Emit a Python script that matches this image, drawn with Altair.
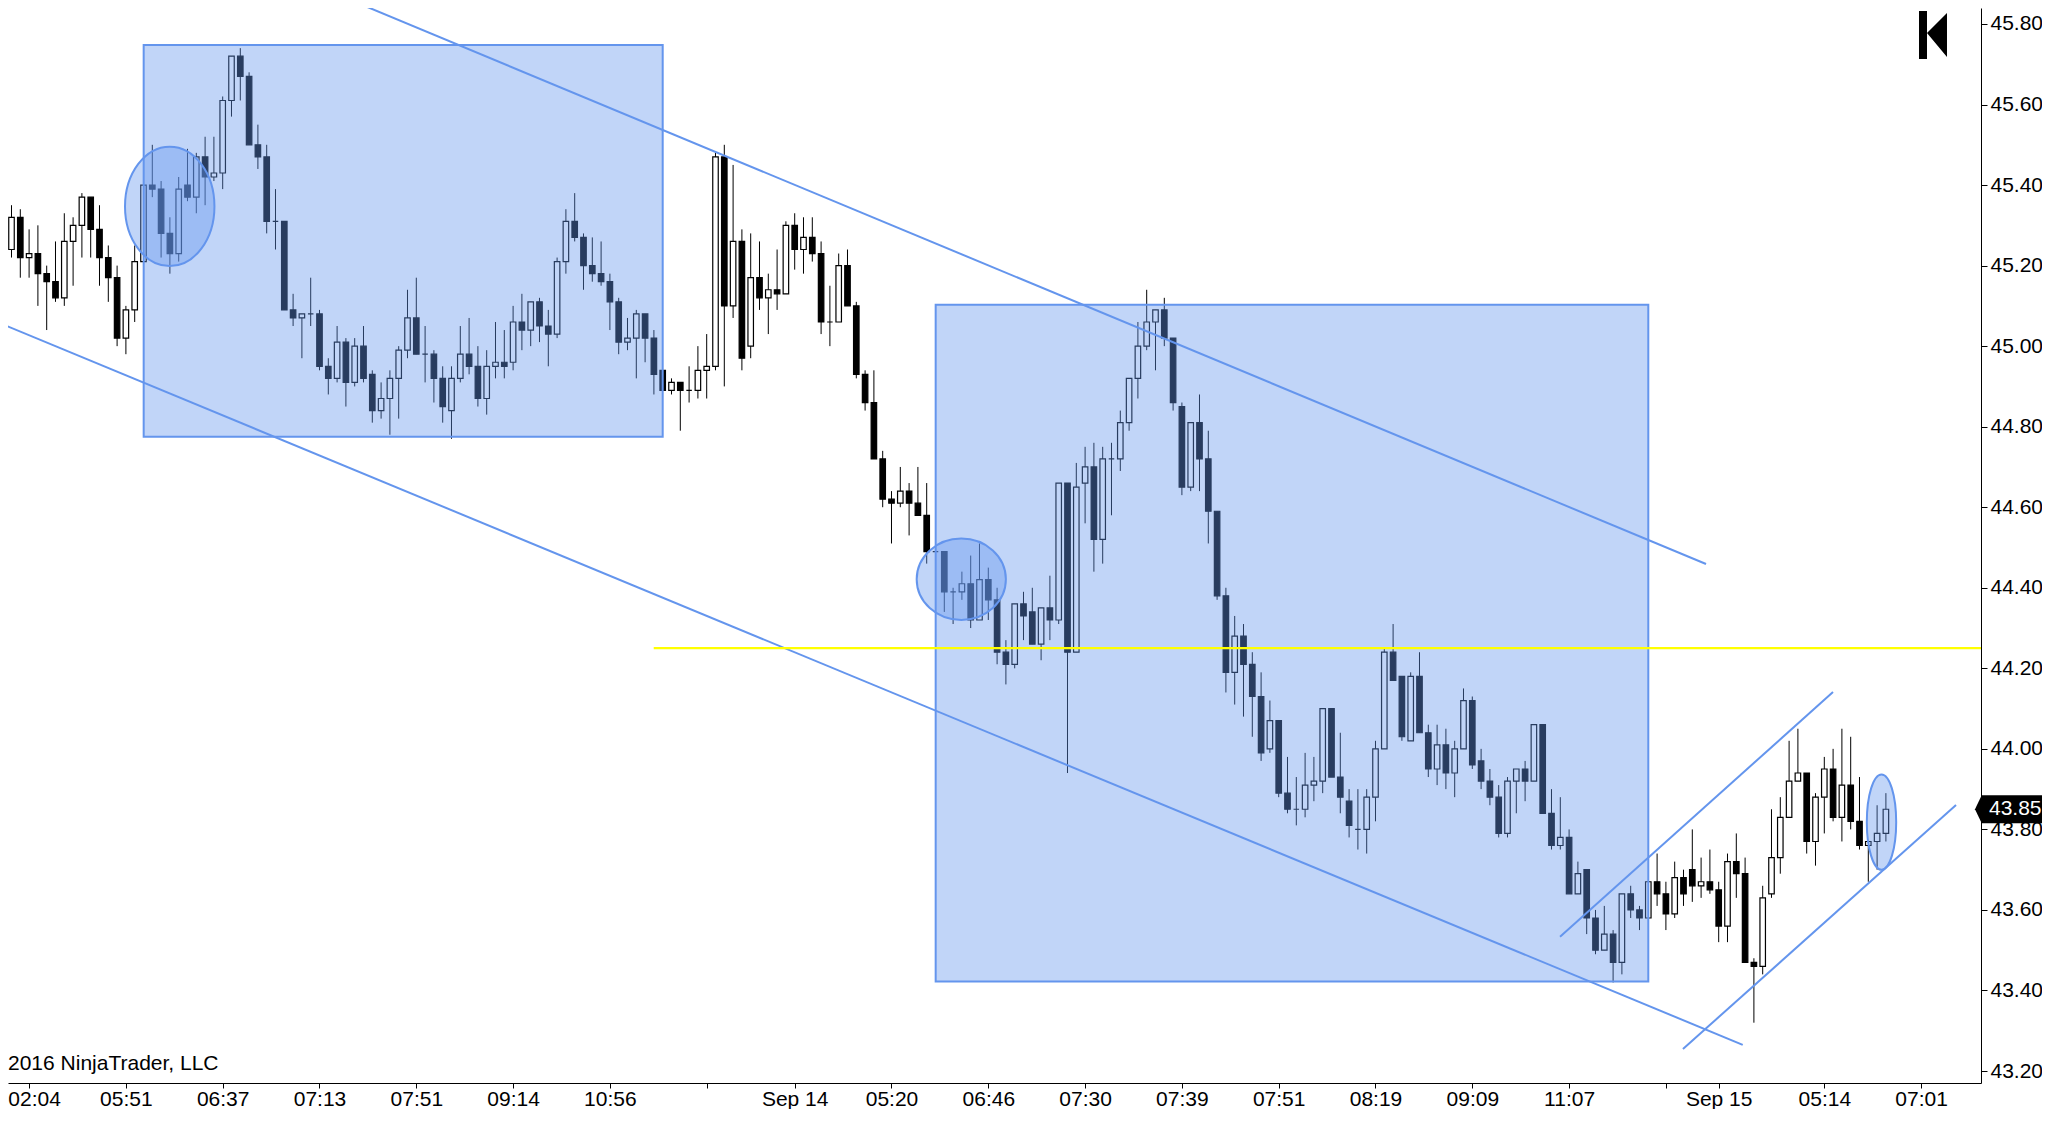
import altair as alt
import pandas as pd

FONT = "Liberation Sans"

# ---- candle data (bar index order) ----
opens = [45.51, 45.24, 45.32, 45.22, 45.23, 45.18, 45.16, 45.12, 45.26, 45.30,
         45.37, 45.29, 45.22, 45.17, 45.02, 45.09, 45.21, 45.40, 45.39, 45.28,
         45.23, 45.40, 45.37, 45.47, 45.42, 45.43, 45.61, 45.72, 45.67, 45.50,
         45.47, 45.31, 45.31, 45.09, 45.07, 45.08, 45.08, 44.95, 44.92, 45.01,
         44.91, 45.00, 44.93, 44.84, 44.87, 44.92, 44.99, 45.07, 44.98, 44.98,
         44.92, 44.84, 44.92, 44.98, 44.95, 44.87, 44.95, 44.96, 44.96, 45.06,
         45.04, 45.11, 45.05, 45.03, 45.21, 45.31, 45.27, 45.20, 45.18, 45.16,
         45.11, 45.01, 45.02, 45.08, 45.02, 44.94, 44.89, 44.91, 44.89, 44.89,
         44.94, 44.95, 45.47, 45.10, 45.26, 45.00, 45.17, 45.12, 45.14, 45.13,
         45.30, 45.24, 45.27, 45.23, 45.06, 45.06, 45.20, 45.10, 44.93, 44.86,
         44.72, 44.62, 44.61, 44.64, 44.61, 44.58, 44.49, 44.49, 44.39, 44.39,
         44.41, 44.32, 44.42, 44.37, 44.24, 44.21, 44.36, 44.34, 44.26, 44.35,
         44.32, 44.66, 44.24, 44.66, 44.70, 44.52, 44.72, 44.72, 44.81, 44.92,
         45.00, 45.06, 45.09, 45.02, 44.85, 44.65, 44.81, 44.72, 44.59, 44.38,
         44.19, 44.28, 44.21, 44.13, 44.00, 44.07, 43.89, 43.85, 43.85, 43.91,
         43.92, 44.10, 43.93, 43.87, 43.80, 43.80, 43.88, 44.00, 44.24, 44.18,
         44.02, 44.18, 44.04, 43.95, 44.01, 43.94, 44.00, 44.12, 43.97, 43.92,
         43.88, 43.79, 43.92, 43.95, 43.92, 44.06, 43.84, 43.76, 43.78, 43.64,
         43.70, 43.58, 43.50, 43.54, 43.47, 43.64, 43.60, 43.58, 43.67, 43.64,
         43.59, 43.68, 43.70, 43.66, 43.67, 43.65, 43.56, 43.72, 43.69, 43.47,
         43.46, 43.64, 43.73, 43.83, 43.92, 43.94, 43.77, 43.88, 43.95, 43.83,
         43.91, 43.82, 43.76, 43.77, 43.79]
highs = [45.52, 45.35, 45.34, 45.29, 45.30, 45.20, 45.26, 45.33, 45.32, 45.38,
         45.37, 45.35, 45.25, 45.20, 45.10, 45.25, 45.40, 45.50, 45.41, 45.32,
         45.42, 45.49, 45.48, 45.52, 45.52, 45.62, 45.72, 45.74, 45.68, 45.55,
         45.50, 45.39, 45.31, 45.13, 45.08, 45.17, 45.09, 44.97, 45.05, 45.02,
         45.02, 45.05, 44.94, 44.91, 44.94, 45.00, 45.14, 45.17, 45.05, 44.99,
         44.95, 44.95, 45.05, 45.07, 45.00, 44.99, 45.06, 45.04, 45.10, 45.13,
         45.11, 45.12, 45.09, 45.22, 45.34, 45.38, 45.28, 45.27, 45.26, 45.18,
         45.12, 45.07, 45.09, 45.08, 45.04, 44.94, 44.92, 44.91, 44.95, 45.00,
         45.03, 45.48, 45.50, 45.45, 45.29, 45.28, 45.26, 45.18, 45.24, 45.31,
         45.33, 45.32, 45.32, 45.26, 45.15, 45.23, 45.24, 45.11, 44.94, 44.94,
         44.74, 44.64, 44.70, 44.66, 44.70, 44.66, 44.49, 44.49, 44.40, 44.44,
         44.48, 44.51, 44.45, 44.40, 44.27, 44.36, 44.39, 44.40, 44.35, 44.43,
         44.66, 44.66, 44.71, 44.75, 44.76, 44.75, 44.76, 44.84, 44.92, 45.06,
         45.14, 45.09, 45.12, 45.02, 44.86, 44.81, 44.88, 44.79, 44.59, 44.40,
         44.33, 44.31, 44.24, 44.19, 44.12, 44.07, 43.98, 43.93, 43.99, 43.98,
         44.10, 44.10, 44.04, 43.90, 43.90, 43.90, 44.02, 44.25, 44.31, 44.18,
         44.19, 44.24, 44.06, 44.06, 44.05, 44.02, 44.15, 44.13, 44.00, 43.95,
         43.91, 43.93, 43.95, 43.97, 44.06, 44.06, 43.90, 43.88, 43.80, 43.72,
         43.70, 43.60, 43.61, 43.55, 43.64, 43.66, 43.61, 43.67, 43.74, 43.67,
         43.72, 43.70, 43.80, 43.73, 43.75, 43.67, 43.74, 43.79, 43.73, 43.48,
         43.66, 43.85, 43.88, 44.02, 44.05, 43.94, 43.89, 43.98, 44.00, 44.05,
         44.03, 43.93, 43.77, 43.86, 43.89]
lows = [45.23, 45.22, 45.17, 45.17, 45.10, 45.04, 45.11, 45.10, 45.15, 45.22,
        45.22, 45.15, 45.11, 45.00, 44.98, 45.06, 45.20, 45.37, 45.22, 45.18,
        45.21, 45.36, 45.33, 45.35, 45.41, 45.39, 45.57, 45.61, 45.50, 45.44,
        45.28, 45.24, 45.09, 45.05, 44.97, 45.05, 44.94, 44.88, 44.91, 44.85,
        44.90, 44.91, 44.81, 44.82, 44.78, 44.82, 44.97, 44.98, 44.91, 44.86,
        44.81, 44.77, 44.91, 44.93, 44.85, 44.83, 44.92, 44.92, 44.94, 44.99,
        45.00, 45.01, 44.95, 45.02, 45.18, 45.26, 45.14, 45.16, 45.15, 45.04,
        44.98, 44.99, 44.92, 44.96, 44.88, 44.89, 44.88, 44.79, 44.86, 44.87,
        44.87, 44.94, 44.90, 45.07, 44.94, 44.97, 45.09, 45.03, 45.09, 45.13,
        45.19, 45.18, 45.21, 45.03, 45.00, 45.06, 45.10, 44.92, 44.84, 44.72,
        44.60, 44.51, 44.60, 44.53, 44.58, 44.46, 44.49, 44.34, 44.31, 44.37,
        44.30, 44.32, 44.32, 44.21, 44.16, 44.20, 44.27, 44.26, 44.22, 44.27,
        44.31, 43.94, 44.24, 44.56, 44.44, 44.46, 44.58, 44.69, 44.79, 44.87,
        44.99, 44.94, 45.00, 44.84, 44.63, 44.64, 44.64, 44.51, 44.37, 44.14,
        44.11, 44.08, 44.03, 43.97, 43.99, 43.88, 43.84, 43.81, 43.83, 43.87,
        43.89, 43.93, 43.84, 43.78, 43.75, 43.74, 43.82, 44.00, 44.17, 44.02,
        44.02, 44.04, 43.93, 43.91, 43.90, 43.88, 44.00, 43.95, 43.90, 43.86,
        43.78, 43.78, 43.84, 43.87, 43.92, 43.84, 43.75, 43.75, 43.64, 43.64,
        43.54, 43.49, 43.50, 43.42, 43.44, 43.58, 43.55, 43.58, 43.61, 43.55,
        43.58, 43.61, 43.62, 43.63, 43.64, 43.52, 43.52, 43.63, 43.47, 43.32,
        43.44, 43.63, 43.69, 43.83, 43.92, 43.74, 43.71, 43.79, 43.82, 43.77,
        43.80, 43.75, 43.67, 43.70, 43.77]
closes = [45.24, 45.32, 45.22, 45.23, 45.18, 45.16, 45.12, 45.26, 45.30, 45.37,
          45.29, 45.22, 45.17, 45.02, 45.09, 45.21, 45.40, 45.39, 45.28, 45.23,
          45.39, 45.37, 45.47, 45.42, 45.43, 45.61, 45.72, 45.67, 45.50, 45.47,
          45.31, 45.31, 45.09, 45.07, 45.08, 45.08, 44.95, 44.92, 45.01, 44.91,
          45.00, 44.92, 44.84, 44.87, 44.92, 44.99, 45.07, 44.98, 44.98, 44.92,
          44.85, 44.92, 44.98, 44.95, 44.87, 44.95, 44.96, 44.95, 45.06, 45.04,
          45.11, 45.05, 45.03, 45.21, 45.31, 45.27, 45.20, 45.18, 45.16, 45.11,
          45.01, 45.02, 45.08, 45.02, 44.93, 44.89, 44.91, 44.89, 44.89, 44.94,
          44.95, 45.47, 45.10, 45.26, 44.97, 45.17, 45.12, 45.14, 45.13, 45.30,
          45.24, 45.27, 45.23, 45.06, 45.06, 45.20, 45.10, 44.93, 44.86, 44.72,
          44.62, 44.61, 44.64, 44.61, 44.58, 44.49, 44.49, 44.39, 44.39, 44.41,
          44.32, 44.42, 44.37, 44.24, 44.21, 44.36, 44.33, 44.26, 44.35, 44.32,
          44.66, 44.24, 44.65, 44.70, 44.52, 44.72, 44.72, 44.81, 44.92, 45.00,
          45.06, 45.09, 45.02, 44.86, 44.65, 44.81, 44.72, 44.59, 44.38, 44.19,
          44.28, 44.21, 44.13, 43.99, 44.07, 43.89, 43.85, 43.85, 43.91, 43.92,
          44.10, 43.93, 43.88, 43.81, 43.80, 43.88, 44.00, 44.24, 44.17, 44.03,
          44.18, 44.04, 43.95, 44.01, 43.94, 44.00, 44.12, 43.96, 43.92, 43.88,
          43.79, 43.92, 43.95, 43.92, 44.06, 43.84, 43.76, 43.78, 43.64, 43.69,
          43.58, 43.50, 43.54, 43.47, 43.64, 43.60, 43.58, 43.67, 43.64, 43.59,
          43.68, 43.64, 43.66, 43.67, 43.65, 43.56, 43.72, 43.69, 43.47, 43.46,
          43.63, 43.73, 43.83, 43.92, 43.94, 43.77, 43.88, 43.95, 43.83, 43.91,
          43.82, 43.76, 43.77, 43.79, 43.85]

# ---- axis labels ----
tick_idx = [3, 14, 25, 36, 47, 58, 69, 80, 90, 101, 112, 123, 134, 145, 156,
            167, 178, 189, 195, 207, 218]
tick_labels = ["02:04", "05:51", "06:37", "07:13", "07:51", "09:14", "10:56", "",
               "Sep 14", "05:20", "06:46", "07:30", "07:39", "07:51", "08:19",
               "09:09", "11:07", "", "Sep 15", "05:14", "07:01"]
price_ticks = [43.20, 43.40, 43.60, 43.80, 44.00, 44.20, 44.40, 44.60, 44.80,
               45.00, 45.20, 45.40, 45.60, 45.80]

# ---- drawing objects (bar index, price) ----
rect_x1 = [16.02, 106.02]
rect_x2 = [75.0, 187.0]
rect_y1 = [45.748, 45.103]
rect_y2 = [44.775, 43.422]

ell_cx = [18.98, 108.93, 213.5]
ell_cy = [45.347, 44.421, 43.818]

line_x1 = [39.47, -0.307, 176.97, 190.94]
line_y1 = [45.86, 45.057, 43.5336, 43.2547]
line_x2 = [193.56, 197.73, 207.99, 221.97]
line_y2 = [44.459, 43.265, 44.141, 43.8606]

hline_x1 = [73.98]
hline_x2 = [230.0]
hline_y = [44.25]

BLUE = "#6495ED"

df = pd.DataFrame({"i": list(range(len(opens))), "o": opens, "h": highs,
                   "l": lows, "c": closes})

xs = alt.Scale(domain=[0.60227, 224.807], nice=False, zero=False, padding=0)
ys = alt.Scale(domain=[43.17025, 45.8397], nice=False, zero=False, padding=0)

label_expr = " : ".join(f"datum.value == {v} ? '{t}'" for v, t in zip(tick_idx, tick_labels)) + " : ''"

xaxis = alt.Axis(values=tick_idx, labelExpr=label_expr, title=None, grid=False,
                 orient="bottom", domainColor="black", tickColor="black",
                 tickSize=5, labelPadding=0, labelFontSize=21, labelFont=FONT,
                 labelColor="black", labelFlush=False, labelOverlap=False,
                 labelAlign="center", labelBaseline="top", domainWidth=1, tickWidth=1,
                 labelOffset={"condition": {"test": "datum.value == 3", "value": 5}, "value": 0})
yaxis = alt.Axis(values=price_ticks, format=".2f", title=None, grid=False,
                 orient="right", domainColor="black", tickColor="black",
                 tickSize=6, labelPadding=3, labelFontSize=21, labelFont=FONT,
                 labelColor="black", labelFlush=False, labelOverlap=False,
                 labelAlign="left", labelBaseline="middle", domainWidth=1, tickWidth=1)


def X(f):
    return alt.X(f, type="quantitative", scale=xs, axis=xaxis)


def Y(f):
    return alt.Y(f, type="quantitative", scale=ys, axis=yaxis)


wicks = alt.Chart(df).mark_rule(color="black", strokeWidth=1, clip=True).encode(
    x=X("i"), y=Y("l"), y2="h")
bodies = alt.Chart(df).mark_bar(size=5.5, stroke="black", strokeWidth=1.2, clip=True).encode(
    x=X("i"), y=Y("o"), y2="c",
    fill=alt.when("datum.c > datum.o").then(alt.value("white")).otherwise(alt.value("black")))

rects = alt.Chart(pd.DataFrame({"x1": rect_x1, "x2": rect_x2, "y1": rect_y1, "y2": rect_y2})).mark_rect(
    fill=BLUE, fillOpacity=0.4, stroke=BLUE, strokeWidth=2, clip=True).encode(
    x=X("x1"), x2="x2", y=Y("y1"), y2="y2")

ell_shapes = [
    ("M 0 -1 A 0.749 1 0 1 1 0 1 A 0.749 1 0 1 1 0 -1 Z", 14256),
    ("M -1 0 A 1 0.9126 0 1 1 1 0 A 1 0.9126 0 1 1 -1 0 Z", 7957),
    ("M 0 -1 A 0.308 1 0 1 1 0 1 A 0.308 1 0 1 1 0 -1 Z", 9101),
]
ellipses = []
for k, (path, sz) in enumerate(ell_shapes):
    ellipses.append(
        alt.Chart(pd.DataFrame({"cx": [ell_cx[k]], "cy": [ell_cy[k]]})).mark_point(
            shape=path, size=sz, filled=True, fill=BLUE, fillOpacity=0.4,
            stroke=BLUE, strokeWidth=2, strokeOpacity=1, opacity=1, clip=True).encode(
            x=X("cx"), y=Y("cy")))

lines = alt.Chart(pd.DataFrame({"x1": line_x1, "x2": line_x2, "y1": line_y1, "y2": line_y2})).mark_rule(
    color=BLUE, strokeWidth=2, clip=True).encode(
    x=X("x1"), x2="x2", y=Y("y1"), y2="y2")

hline = alt.Chart(pd.DataFrame({"x1": hline_x1, "x2": hline_x2, "y": hline_y})).mark_rule(
    color="#FFFF00", strokeWidth=2.2, clip=True).encode(
    x=X("x1"), x2="x2", y=Y("y"))

logo = alt.Chart(pd.DataFrame({"a": [0]})).mark_point(
    shape="M -0.583 -1 L -0.25 -1 L -0.25 1 L -0.583 1 Z M -0.25 -0.08 L 0.583 -0.917 L 0.583 0.917 Z",
    size=2304, filled=True, fill="black", opacity=1, strokeWidth=0).encode(
    x=alt.value(1925), y=alt.value(27))

last_df = pd.DataFrame({"p": [closes[-1]]})
marker = alt.Chart(last_df).mark_point(
    shape="M -1 0 L -0.8 -0.418 L 1 -0.418 L 1 0.418 L -0.8 0.418 Z",
    size=4489, filled=True, fill="black", opacity=1, strokeWidth=0).encode(
    x=alt.value(2000.5), y=Y("p"))
marker_text = alt.Chart(last_df).mark_text(
    align="left", baseline="middle", fontSize=21, font=FONT, color="white").encode(
    x=alt.value(1981), y=Y("p"), text=alt.Text("p:Q", format=".2f"))

copyright_text = alt.Chart(pd.DataFrame({"a": [0]})).mark_text(
    align="left", baseline="middle", fontSize=21, font=FONT, color="black").encode(
    x=alt.value(0), y=alt.value(1056), text=alt.value("2016 NinjaTrader, LLC"))

chart = alt.layer(
    wicks, bodies, rects, *ellipses, lines, hline, logo, marker, marker_text, copyright_text
).properties(
    width=1973, height=1075,
    autosize=alt.AutoSizeParams(type="none"),
    padding={"left": 0, "top": 0, "right": 61, "bottom": 26},
    background="white",
).configure_view(stroke=None)

chart.save("out.html", embed_options={"renderer": "svg", "actions": False})
